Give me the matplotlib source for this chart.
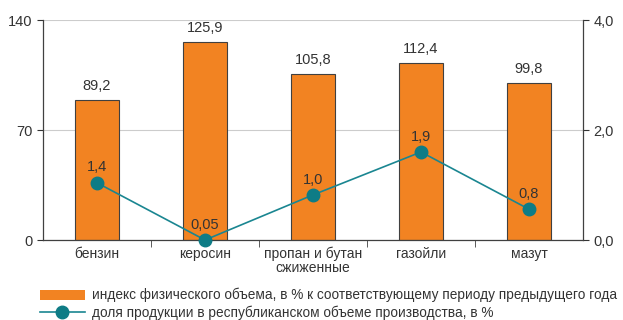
import matplotlib.pyplot as plt
from matplotlib.patches import Patch
from matplotlib.lines import Line2D

plt.rcParams['font.family'] = ['Liberation Sans', 'DejaVu Sans']

categories = ['бензин', 'керосин', 'пропан и бутан\nсжиженные', 'газойли', 'мазут']
index_values = [89.2, 125.9, 105.8, 112.4, 99.8]
index_labels = ['89,2', '125,9', '105,8', '112,4', '99,8']
# положение точек на графике (как нарисовано) и подписи к ним
share_values = [1.04, 0.0, 0.82, 1.6, 0.56]
share_labels = ['1,4', '0,05', '1,0', '1,9', '0,8']

orange = '#F28322'
teal = '#1A8691'
dark = '#404040'

fig = plt.figure(figsize=(6.23, 3.2), dpi=100)
ax = fig.add_axes([43 / 623, 80 / 320, 540 / 623, 220 / 320])
ax2 = ax.twinx()

x = list(range(len(categories)))
ax.bar(x, index_values, width=0.4, color=orange, edgecolor=dark, linewidth=0.8, zorder=2)
for xi, v, lab in zip(x, index_values, index_labels):
    ax.annotate(lab, (xi, v), xytext=(0, 5), textcoords='offset points',
                ha='center', va='bottom', fontsize=10.5, color='#333333')

ax.set_xlim(-0.5, 4.5)
ax.set_ylim(0, 140)
ax.set_yticks([0, 70, 140])
ax.set_yticklabels(['0', '70', '140'])
ax.grid(axis='y', color='#cccccc', linewidth=0.8, zorder=0)
ax.set_axisbelow(True)

ax.set_xticks(x)
ax.set_xticklabels(categories, fontsize=10, color='#333333', linespacing=1.0)
ax.tick_params(axis='x', length=0, pad=5)
ax.set_xticks([0.5, 1.5, 2.5, 3.5], minor=True)
ax.tick_params(axis='x', which='minor', length=5, color=dark)
ax.tick_params(axis='y', labelsize=10.5, colors='#333333', length=4)

ax2.plot(x, share_values, color=teal, linewidth=1.2, marker='o', markersize=9,
         markerfacecolor='#0E7C86', markeredgecolor='#0E7C86', zorder=3, clip_on=False)
for xi, v, lab in zip(x, share_values, share_labels):
    ax2.annotate(lab, (xi, v), xytext=(0, 6), textcoords='offset points',
                 ha='center', va='bottom', fontsize=10.5, color='#333333')
ax2.set_ylim(0, 4)
ax2.set_yticks([0, 2, 4])
ax2.set_yticklabels(['0,0', '2,0', '4,0'])
ax2.tick_params(axis='y', labelsize=10.5, colors='#333333', length=4)

for a in (ax, ax2):
    a.spines['top'].set_visible(False)
    for s in ('left', 'right', 'bottom'):
        a.spines[s].set_color(dark)
        a.spines[s].set_linewidth(0.9)
ax.spines['right'].set_visible(False)
ax2.spines['left'].set_visible(False)
ax2.spines['bottom'].set_visible(False)
for lbl in ax.get_yticklabels() + ax2.get_yticklabels():
    lbl.set_color('#333333')

handles = [
    Patch(facecolor=orange, edgecolor='none'),
    Line2D([0], [0], color=teal, linewidth=1.2, marker='o', markersize=9,
           markerfacecolor='#0E7C86', markeredgecolor='#0E7C86'),
]
labels = ['индекс физического объема, в % к соответствующему периоду предыдущего года',
          'доля продукции в республиканском объеме производства, в %']
fig.legend(handles, labels, loc='upper left', bbox_to_anchor=(40 / 623, 1 - 288 / 320),
           frameon=False, fontsize=9.8, handlelength=3.3, handleheight=0.8,
           labelspacing=0.2, borderaxespad=0, borderpad=0, handletextpad=0.5,
           labelcolor='#333333')

fig.savefig('out.png', dpi=100)
